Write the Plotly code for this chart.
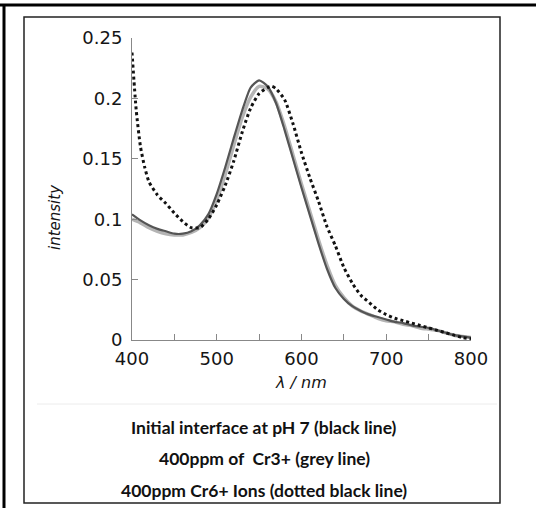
import plotly.graph_objects as go

# wavelengths (nm)
wl = [400, 410, 420, 430, 440, 450, 460, 470, 480, 490, 500, 510, 520, 530, 540, 550,
      560, 570, 580, 590, 600, 610, 620, 630, 640, 650, 660, 670, 680, 690, 700, 710,
      720, 730, 740, 750, 760, 770, 780, 790, 800]

# initial interface at pH 7 (black line)
initial = [0.104, 0.099, 0.095, 0.092, 0.090, 0.088, 0.088, 0.090, 0.095, 0.104, 0.121,
           0.143, 0.167, 0.190, 0.209, 0.215, 0.210, 0.196, 0.174, 0.150, 0.126, 0.103,
           0.080, 0.059, 0.043, 0.034, 0.028, 0.024, 0.021, 0.019, 0.017, 0.015, 0.014,
           0.012, 0.011, 0.010, 0.008, 0.006, 0.004, 0.003, 0.002]

# 400 ppm Cr3+ (grey line)
cr3 = [0.100, 0.097, 0.093, 0.090, 0.088, 0.087, 0.087, 0.089, 0.093, 0.101, 0.116,
       0.137, 0.161, 0.184, 0.201, 0.210, 0.208, 0.197, 0.177, 0.153, 0.129, 0.106,
       0.083, 0.062, 0.045, 0.035, 0.028, 0.024, 0.021, 0.018, 0.016, 0.015, 0.013,
       0.012, 0.010, 0.009, 0.008, 0.006, 0.004, 0.003, 0.002]

# 400 ppm Cr6+ ions (dotted black line)
wl_cr6 = [400, 405, 410, 415, 420, 430, 440, 450, 460, 470, 480, 490, 500, 510, 520, 530,
          540, 550, 560, 565, 570, 580, 590, 600, 610, 620, 630, 640, 650, 660, 670, 680,
          690, 700, 710, 720, 730, 740, 750, 760, 770, 780, 790, 800]
cr6 = [0.238, 0.190, 0.160, 0.143, 0.131, 0.120, 0.113, 0.105, 0.098, 0.093, 0.093, 0.100,
       0.112, 0.128, 0.148, 0.172, 0.192, 0.204, 0.209, 0.210, 0.208, 0.199, 0.179, 0.155,
       0.134, 0.115, 0.094, 0.078, 0.060, 0.047, 0.037, 0.031, 0.025, 0.021, 0.018, 0.016,
       0.014, 0.012, 0.010, 0.008, 0.006, 0.004, 0.002, 0.001]

caption = ["Initial interface at pH 7 (black line)",
           "400ppm of  Cr3+ (grey line)",
           "400ppm Cr6+ Ions (dotted black line)"]

W, H = 536, 508
L, R, T, B = 132, 65, 38, 168
pw, ph = W - L - R, H - T - B


def px(x):
    return (x - L) / pw


def py(y):
    return 1 - (y - T) / ph


fig = go.Figure()
fig.add_trace(go.Scatter(x=wl, y=cr3, mode="lines", line=dict(color="#b4b4b4", width=3.5, shape="spline", smoothing=0.6)))
fig.add_trace(go.Scatter(x=wl, y=initial, mode="lines", line=dict(color="#555555", width=2.2, shape="spline", smoothing=0.6)))
fig.add_trace(go.Scatter(x=wl_cr6, y=cr6, mode="lines", line=dict(color="#111111", width=3, dash="dot", shape="spline", smoothing=0.6)))

axis_font = dict(family="DejaVu Sans", size=18, color="#151515")
fig.update_xaxes(range=[400, 800], dtick=100, showgrid=False, zeroline=False,
                 showline=True, linecolor="#888", linewidth=1,
                 ticks="inside", ticklen=6, tickcolor="#888",
                 minor=dict(dtick=50, ticks="inside", ticklen=6, tickcolor="#888"),
                 tickfont=axis_font, ticklabelstandoff=2)
fig.update_yaxes(range=[0, 0.25], dtick=0.05, showgrid=False, zeroline=False,
                 showline=True, linecolor="#888", linewidth=1,
                 ticks="inside", ticklen=6, tickcolor="#888",
                 tickfont=axis_font, ticklabelstandoff=5)

ann = [
    dict(text="<i>λ / nm</i>", x=px(301), y=py(382), font=dict(family="DejaVu Sans", size=16, color="#151515")),
    dict(text="<i>intensity</i>", x=px(55), y=py(217), textangle=-90, font=dict(family="DejaVu Sans", size=15, color="#151515")),
]
for i, line in enumerate(caption):
    ann.append(dict(text="<b>" + line + "</b>", x=px(264), y=py(427 + 31.5 * i),
                    font=dict(family="Lato", size=17.5, color="#111")))
for a in ann:
    a.update(xref="paper", yref="paper", showarrow=False, xanchor="center", yanchor="middle")

shapes = [
    # inner frame
    dict(type="rect", x0=px(24), x1=px(500), y0=py(503), y1=py(17), line=dict(color="#222", width=1.5)),
    # outer frame (top + left)
    dict(type="line", x0=px(0), x1=px(536), y0=py(5), y1=py(5), line=dict(color="#000", width=3)),
    dict(type="line", x0=px(4), x1=px(4), y0=py(5), y1=py(508), line=dict(color="#000", width=3)),
    # faint separator
    dict(type="line", x0=px(37), x1=px(497), y0=py(404), y1=py(404), line=dict(color="#ececec", width=1)),
]
for s in shapes:
    s.update(xref="paper", yref="paper")

fig.update_layout(width=W, height=H, margin=dict(l=L, r=R, t=T, b=B),
                  paper_bgcolor="white", plot_bgcolor="white", showlegend=False,
                  annotations=ann, shapes=shapes)

fig.write_html("out.html", config={"displayModeBar": False},
               post_script="document.body.style.margin='0';")
